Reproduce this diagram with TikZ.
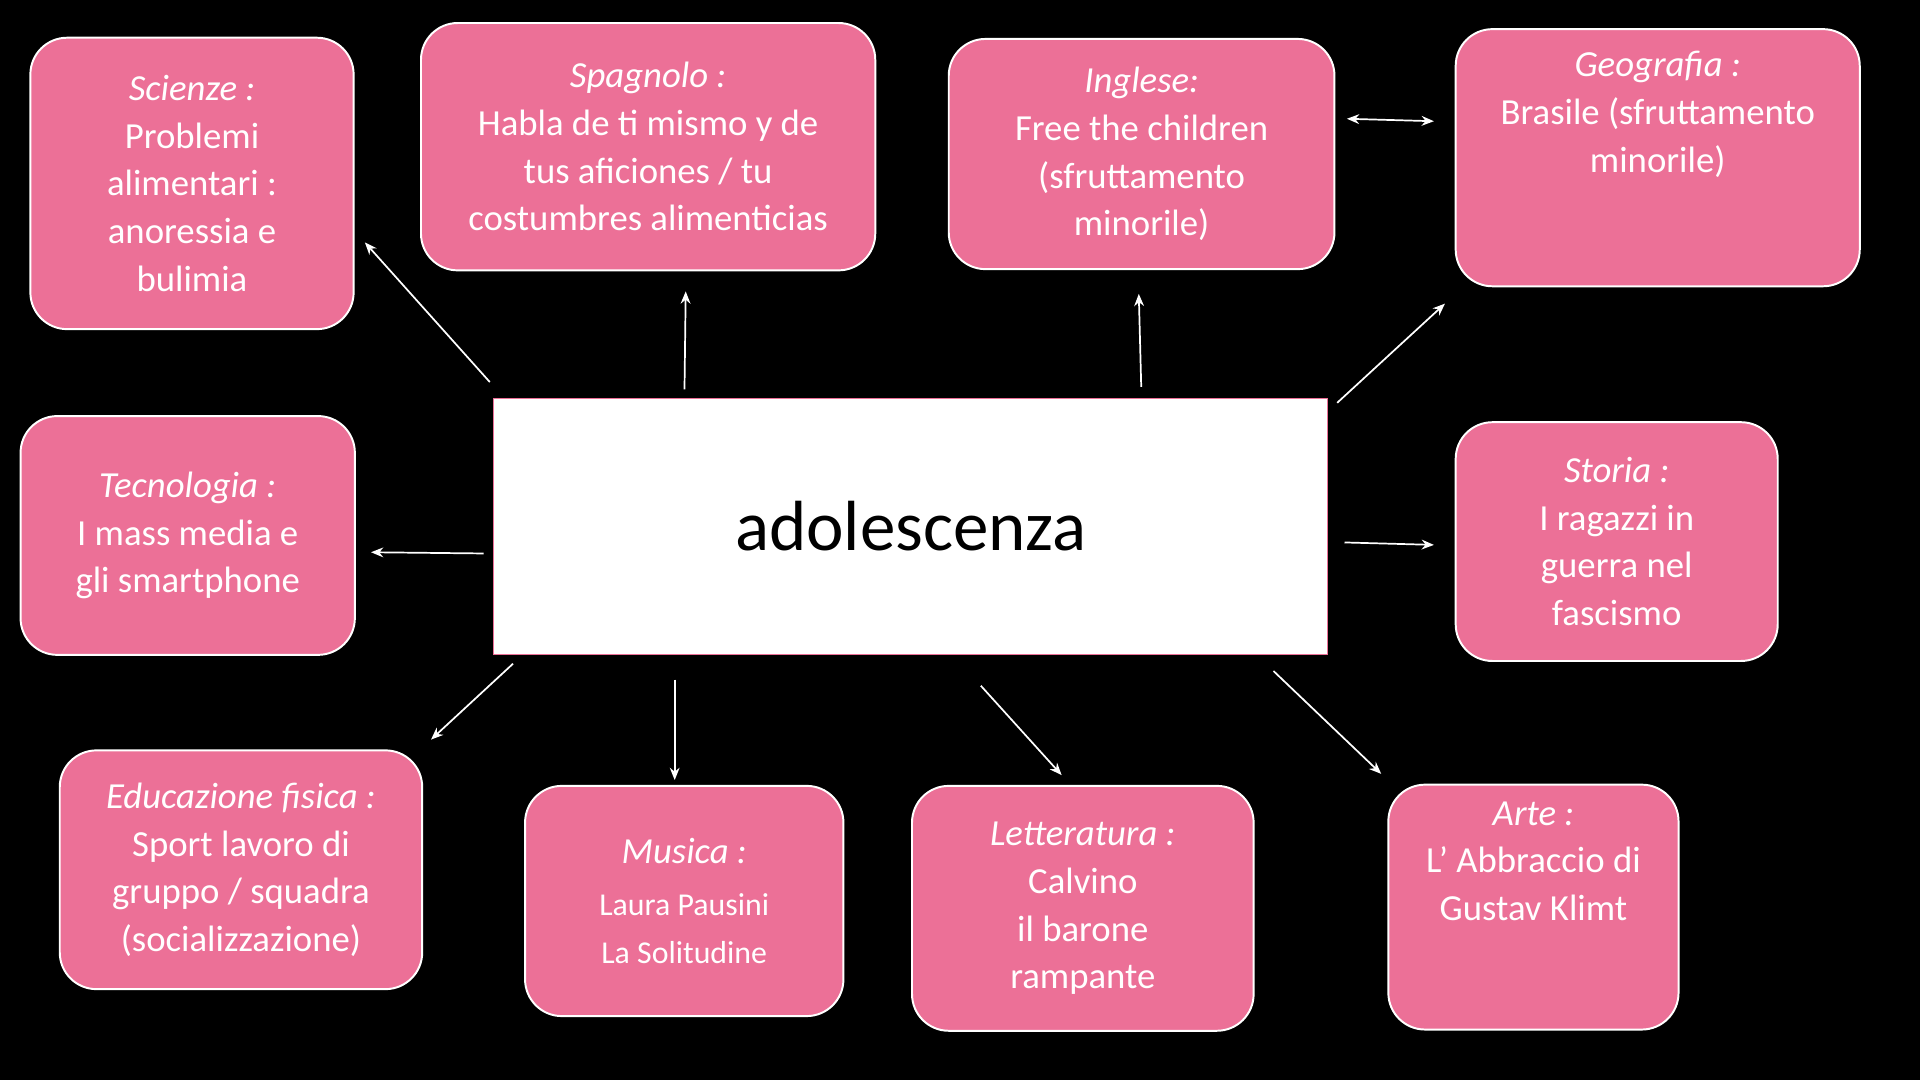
\documentclass[tikz,border=0pt]{standalone}
\usepackage{fontspec}
\setmainfont{Carlito}
\usetikzlibrary{arrows.meta}
\definecolor{pk}{HTML}{EC7097}
\begin{document}
\begin{tikzpicture}[x=0.5pt,y=-0.5pt,
  box/.style={draw=white,line width=0.8pt,fill=pk,rounded corners=15pt,anchor=north west,inner sep=0pt,text=white,align=center,font=\fontsize{15}{19.5}\selectfont},
  arr/.style={draw=white,line width=0.7pt,-{Stealth[length=5pt,width=4pt]}}]
\fill[black] (0,0) rectangle (1568,882);
\useasboundingbox (0,0) rectangle (1568,882);
\newcommand{\bx}[6]{\node[box,minimum width=#4*0.5pt,minimum height=#5*0.5pt] (#1) at (#2,#3) {#6};}
\bx{sci}{24}{30}{264}{238}{\textit{Scienze :}\\Problemi\\alimentari :\\anoressia e\\bulimia}
\bx{spa}{343}{18}{371}{202}{\textit{Spagnolo :}\\Habla de ti mismo y de\\tus aficiones / tu\\costumbres alimenticias}
\bx{ing}{774}{31}{315}{188}{\textit{Inglese:}\\Free the children\\(sfruttamento\\minorile)}
\bx{geo}{1188}{23}{330}{210}{\textit{Geografia :}\\Brasile (sfruttamento\\minorile)\\[1.2em]}
\bx{tec}{16}{339}{273}{195}{\textit{Tecnologia :}\\I mass media e\\gli smartphone}
\node[draw=pk,fill=white,anchor=north west,minimum width=340.5pt,minimum height=104.5pt,font=\fontsize{29}{34}\selectfont] (c) at (403,325) {adolescenza};
\bx{sto}{1188}{344}{263}{195}{\textit{Storia :}\\I ragazzi in\\guerra nel\\fascismo}
\bx{edu}{48}{612}{296}{195}{\textit{Educazione fisica :}\\Sport lavoro di\\gruppo / squadra\\(socializzazione)}
\bx{mus}{428}{641}{260}{188}{\textit{Musica :}\\[2pt]{\fontsize{13}{17.5}\selectfont Laura Pausini}\\{\fontsize{13}{17.5}\selectfont La Solitudine}}
\bx{let}{744}{641}{279}{200}{\textit{Letteratura :}\\Calvino\\il barone\\rampante}
\bx{art}{1133}{640}{237}{200}{\textit{Arte :}\\L' Abbraccio di\\Gustav Klimt\\[1.2em]}
\foreach \n/\a/\b/\c/\d in {a1/400/312/298/198, a2/559/318/560/238, a3/932/316/930/240, a5/1092/329/1180/248, a6/395/452/303/451, a7/1098/443/1171/445, a8/419/542/352/604, a9/551/555/551/637, a10/801/560/867/633, a11/1040/548/1128/632}{
  \coordinate (\n s) at (\a,\b); \coordinate (\n e) at (\c,\d);
  \draw[arr] (\n s) -- (\n e);}
\coordinate (d1) at (1100,97); \coordinate (d2) at (1171,99);
\draw[arr,{Stealth[length=5pt,width=4pt]}-{Stealth[length=5pt,width=4pt]}] (d1) -- (d2);
\end{tikzpicture}
\end{document}
